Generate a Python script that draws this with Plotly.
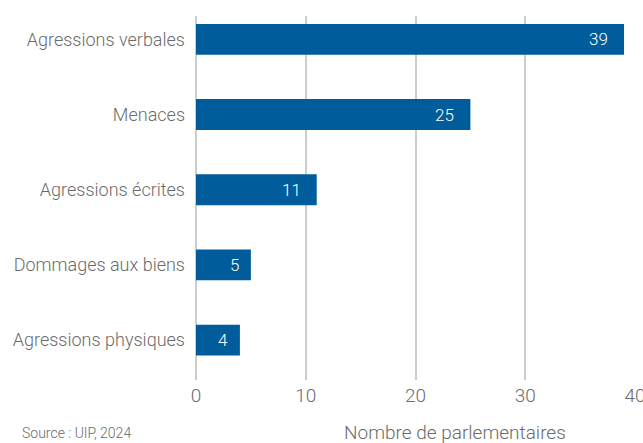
import plotly.graph_objects as go

categories = ["Agressions verbales", "Menaces", "Agressions écrites", "Dommages aux biens", "Agressions physiques"]
values = [39, 25, 11, 5, 4]
tick_vals = [0, 10, 20, 30, 40]

FONT = "Roboto, sans-serif"
BLUE = "#005c9a"
GRAY = "#6b6b6b"

cats_bottom_up = categories[::-1]
vals_bottom_up = values[::-1]

fig = go.Figure()
fig.add_trace(go.Bar(
    y=cats_bottom_up, x=vals_bottom_up, orientation="h",
    marker=dict(color=BLUE, line=dict(width=0)),
    width=0.41, hoverinfo="x+y",
))

for c, v in zip(cats_bottom_up, vals_bottom_up):
    fig.add_annotation(x=v, y=c, text=str(v), showarrow=False,
                       xanchor="right", xshift=-14 if v >= 10 else -10,
                       font=dict(family=FONT, size=17, color="white", weight=300))

fig.add_annotation(text="Nombre de parlementaires", xref="paper", yref="paper",
                   x=0.59, y=-0.143, xanchor="center", yanchor="middle", showarrow=False,
                   font=dict(family=FONT, size=19, color=GRAY, weight=300))
fig.add_annotation(text="Source : UIP, 2024", xref="paper", yref="paper",
                   x=-0.40, y=-0.146, xanchor="left", yanchor="middle", showarrow=False,
                   font=dict(family=FONT, size=14, color=GRAY, weight=300))

fig.update_layout(
    width=643, height=443,
    margin=dict(l=196, r=8, t=16, b=63, autoexpand=False),
    plot_bgcolor="white", paper_bgcolor="white",
    showlegend=False,
    font=dict(family=FONT, color=GRAY),
    xaxis=dict(range=[0, 40], tickvals=tick_vals, showgrid=True, gridcolor="#cccccc",
               gridwidth=1.5, zeroline=True, zerolinecolor="#cccccc", zerolinewidth=1.5,
               showline=False, ticks="", tickfont=dict(family=FONT, size=19, color=GRAY, weight=300),
               ticklabelstandoff=2, automargin=False, ticklabeloverflow="allow"),
    yaxis=dict(categoryorder="array", categoryarray=cats_bottom_up, range=[-0.53, 4.31],
               showgrid=False, ticks="", showline=False, automargin=False,
               tickfont=dict(family=FONT, size=18, color=GRAY, weight=300), ticklabelstandoff=10),
)

fig.write_html("out.html", config={"displayModeBar": False},
               post_script="document.body.style.margin='0';document.body.style.overflow='hidden';")
